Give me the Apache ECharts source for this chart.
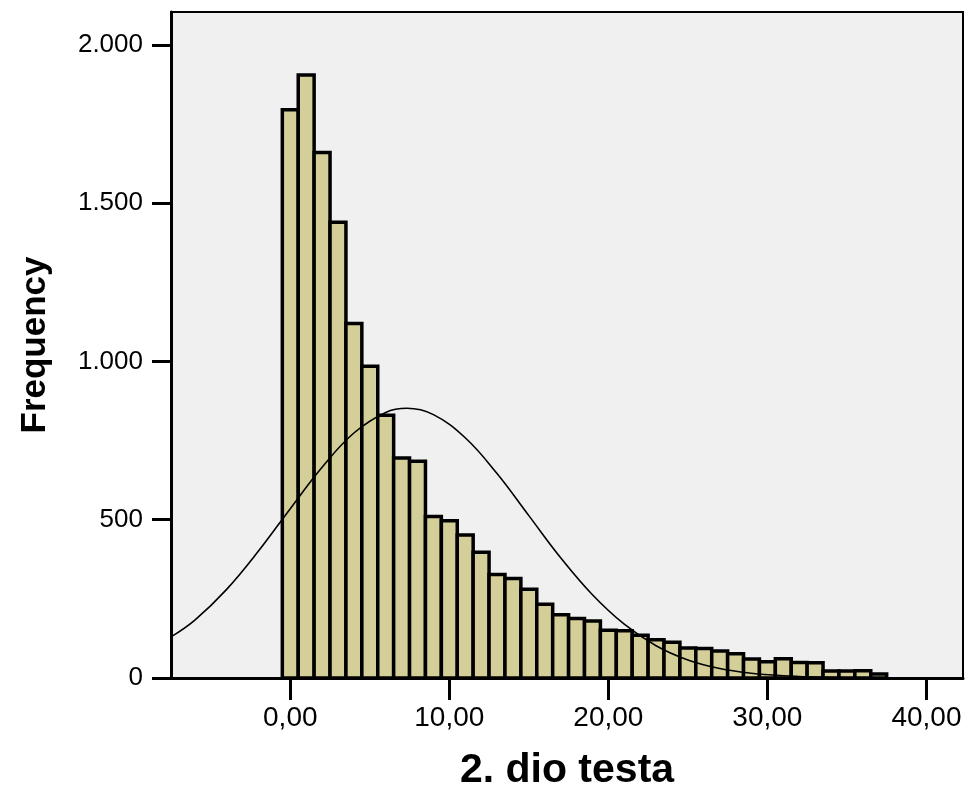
<!DOCTYPE html>
<html>
<head>
<meta charset="utf-8">
<script src="https://cdn.jsdelivr.net/npm/echarts@6/dist/echarts.min.js"></script>
<style>
  html, body { margin: 0; padding: 0; background: #fff; }
  #chart { width: 965px; height: 805px; }
</style>
</head>
<body>
<div id="chart"></div>
<script>
// histogram bins (centre of each 1-point bin) and counts
const binCenters = [0, 1, 2, 3, 4, 5, 6, 7, 8, 9, 10, 11, 12, 13, 14, 15, 16, 17, 18,
  19, 20, 21, 22, 23, 24, 25, 26, 27, 28, 29, 30, 31, 32, 33, 34, 35, 36, 37]
const frequencies = [1795, 1905, 1660, 1440, 1120, 985, 830, 695, 685, 510, 497, 452,
  397, 327, 314, 280, 233, 200, 188, 180, 151, 149, 135, 121, 113, 95, 93, 85, 77,
  60, 51, 61, 49, 48, 22, 22, 23, 13]

// normal curve
const curveX = [-7.5, -6, -4, -2, 0, 2, 4, 6, 7.34, 9, 11, 13, 15, 17, 19, 21, 23,
  25, 27, 29, 31, 33, 35, 37, 39, 42.3]
const curveY = [130, 183, 280, 401, 535, 666, 774, 839, 852, 832, 759, 646, 513, 380,
  263, 170, 102, 57, 30, 15, 7, 3, 1, 0.4, 0.1, 0]

const xTicks = [0, 10, 20, 30, 40]
const yTicks = [0, 500, 1000, 1500, 2000]

const chart = echarts.init(document.getElementById('chart'))

const option = {
  animation: false,
  backgroundColor: '#ffffff',
  grid: {
    left: 171,
    right: 2,
    top: 12,
    bottom: 127,
    show: true,
    backgroundColor: '#f0f0f0',
    borderColor: '#000',
    borderWidth: 2
  },
  xAxis: {
    type: 'value',
    min: -7.5,
    max: 42.3,
    name: '2. dio testa',
    nameLocation: 'middle',
    nameGap: 72,
    nameTextStyle: {
      fontFamily: 'Liberation Sans, Arial, sans-serif',
      fontWeight: 'bold',
      fontSize: 41,
      color: '#000'
    },
    splitLine: { show: false },
    axisLine: { show: true, onZero: false, lineStyle: { color: '#000', width: 3 } },
    axisTick: {
      show: true,
      customValues: xTicks,
      length: 22,
      lineStyle: { color: '#000', width: 3 }
    },
    axisLabel: {
      customValues: xTicks,
      margin: 26,
      fontFamily: 'Liberation Sans, Arial, sans-serif',
      fontSize: 28,
      color: '#000',
      formatter: v => v.toFixed(2).replace('.', ',')
    }
  },
  yAxis: {
    type: 'value',
    min: 0,
    max: 2104,
    name: 'Frequency',
    nameLocation: 'middle',
    nameGap: 118,
    nameTextStyle: {
      fontFamily: 'Liberation Sans, Arial, sans-serif',
      fontWeight: 'bold',
      fontSize: 35,
      color: '#000'
    },
    splitLine: { show: false },
    axisLine: { show: true, onZero: false, lineStyle: { color: '#000', width: 3 } },
    axisTick: {
      show: true,
      customValues: yTicks,
      length: 19,
      lineStyle: { color: '#000', width: 3 }
    },
    axisLabel: {
      customValues: yTicks,
      margin: 28,
      fontFamily: 'Liberation Sans, Arial, sans-serif',
      fontSize: 26,
      color: '#000',
      formatter: v => String(v).replace(/\B(?=(\d{3})+(?!\d))/g, '.')
    }
  },
  series: [
    {
      type: 'custom',
      data: binCenters.map((c, i) => [c, frequencies[i]]),
      renderItem: (params, api) => {
        const c = api.value(0)
        const topLeft = api.coord([c - 0.5, api.value(1)])
        const bottomRight = api.coord([c + 0.5, 0])
        return {
          type: 'rect',
          shape: {
            x: topLeft[0],
            y: topLeft[1],
            width: bottomRight[0] - topLeft[0],
            height: bottomRight[1] - topLeft[1]
          },
          style: { fill: '#d4cf98', stroke: '#000', lineWidth: 3.5 }
        }
      },
      z: 2
    },
    {
      type: 'line',
      data: curveX.map((x, i) => [x, curveY[i]]),
      smooth: 0.4,
      showSymbol: false,
      lineStyle: { color: '#000', width: 1.6 },
      z: 3
    }
  ]
}

chart.setOption(option)
</script>
</body>
</html>
